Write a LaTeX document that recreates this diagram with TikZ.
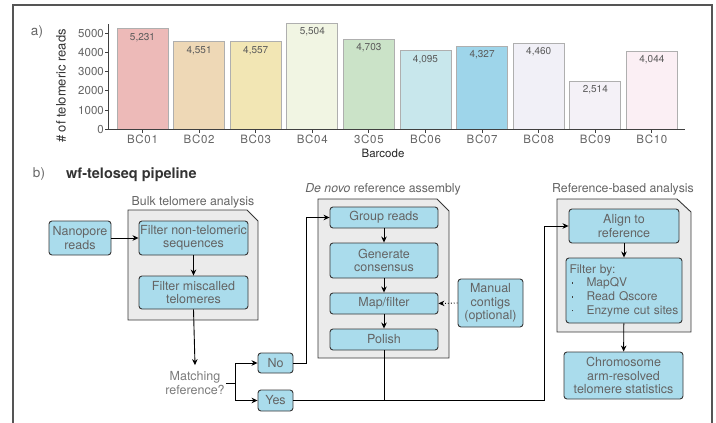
\documentclass[tikz,border=0pt]{standalone}
\usepackage{fontspec}
\setmainfont{TeX Gyre Heros}
\usetikzlibrary{arrows.meta,calc}
\definecolor{nodeblue}{RGB}{170,220,236}
\definecolor{nodeedge}{RGB}{55,55,55}
\definecolor{txtgray}{RGB}{100,100,100}
\definecolor{grpfill}{RGB}{235,235,235}
\definecolor{framegray}{RGB}{85,85,85}
\definecolor{barline}{RGB}{175,175,175}
\definecolor{cA}{RGB}{237,186,184}
\definecolor{cB}{RGB}{238,216,182}
\definecolor{cC}{RGB}{242,230,180}
\definecolor{cD}{RGB}{241,245,227}
\definecolor{cE}{RGB}{203,227,200}
\definecolor{cF}{RGB}{200,231,236}
\definecolor{cG}{RGB}{158,213,234}
\definecolor{cH}{RGB}{241,240,247}
\definecolor{cI}{RGB}{244,241,247}
\definecolor{cJ}{RGB}{251,239,244}
\tikzset{
  procbox/.style={draw=nodeedge, fill=nodeblue, rounded corners=3pt, line width=0.9pt,
    text=txtgray, font=\fontsize{12.5}{13.5}\selectfont, align=center, inner sep=1pt},
  grpbox/.style={draw=nodeedge, fill=grpfill, line width=0.9pt},
  grplabel/.style={text=txtgray, font=\fontsize{12.3}{13.5}\selectfont, inner sep=0pt},
  conn/.style={line width=0.9pt, black},
  arr/.style={conn, -{Stealth[length=6pt,width=5.5pt]}},
  barbox/.style={draw=barline, line width=0.9pt},
  ticklab/.style={text=txtgray, font=\fontsize{11.5}{12}\selectfont, inner sep=0pt},
  vallab/.style={text=txtgray!90!black, font=\fontsize{10}{11}\selectfont, inner sep=0pt},
  axisline/.style={draw=black!75, line width=0.9pt},
}
\newcommand{\bulletitem}{\makebox[17pt][l]{\hspace{2pt}\textcolor{black!75}{\raisebox{2.8pt}{\rule{1.7pt}{1.7pt}}}}}
\begin{document}
\begin{tikzpicture}[x=1pt, y=-1pt]
\useasboundingbox (0,0) rectangle (716,423);
% outer frame
\draw[framegray, line width=1.3pt] (13,423) -- (13,5) -- (712,5) -- (712,423);

% ---------- panel a ----------
\node[text=black!60, font=\fontsize{13.5}{15}\selectfont, inner sep=0pt] (alab) at (37,32) {a)};
% bars
\foreach \v/\t/\c [count=\i from 0] in {5231/{5,231}/cA, 4551/{4,551}/cB, 4557/{4,557}/cC, 5504/{5,504}/cD, 4703/{4,703}/cE, 4095/{4,095}/cF, 4327/{4,327}/cG, 4460/{4,460}/cH, 2514/{2,514}/cI, 4044/{4,044}/cJ} {
  \pgfmathsetmacro{\xl}{117+56.6*\i}
  \pgfmathsetmacro{\xc}{142.5+56.6*\i}
  \pgfmathsetmacro{\yt}{129.3-\v*0.0192}
  \draw[barbox, fill=\c] (\xl,129.3) rectangle ({\xl+51},\yt);
  \node[vallab] (val\i) at (\xc,{\yt+8.5}) {\t};
}
% axes
\draw[axisline] (108,24) -- (108,129.3) -- (685,129.3);
\foreach \k/\lab in {0/0, 1/1000, 2/2000, 3/3000, 4/4000, 5/5000} {
  \pgfmathsetmacro{\yy}{129.3-19.2*\k}
  \draw[axisline] (108,\yy) -- (105,\yy);
  \node[ticklab, anchor=east] (ytick\k) at (104,\yy) {\lab};
}
\foreach \lab [count=\i from 0] in {BC01,BC02,BC03,BC04,3C05,BC06,BC07,BC08,BC09,BC10} {
  \pgfmathsetmacro{\xc}{142.5+56.6*\i}
  \draw[axisline] (\xc,129.3) -- (\xc,132.5);
  \node[ticklab, font=\fontsize{11.5}{12}\selectfont] (xtick\i) at (\xc,139.5) {\addfontfeature{LetterSpace=6}\lab};
}
\node[text=black!85, font=\fontsize{11.5}{12}\selectfont, inner sep=0pt] (xaxlab) at (383,153.5) {Barcode};
\node[text=black!80, font=\fontsize{13}{14}\selectfont, rotate=90, inner sep=0pt] (yaxlab) at (61,86) {\# of telomeric reads};

% ---------- panel b ----------
\node[text=black!60, font=\fontsize{13.5}{15}\selectfont, inner sep=0pt] (blab) at (39,174.5) {b)};
\node[text=black!80, font=\fontsize{14.5}{16}\selectfont\bfseries, inner sep=0pt, anchor=west] (title) at (66,174.5) {wf-teloseq pipeline};

% group boxes
\draw[grpbox] (128,210) -- (247,210) -- (258,221) -- (258,320) -- (128,320) -- cycle;
\draw[grpbox] (318,199) -- (437,199) -- (449,211) -- (449,358) -- (318,358) -- cycle;
\draw[grpbox] (557,199) -- (677,199) -- (691,212) -- (691,332) -- (557,332) -- cycle;
\node[grplabel] (glab1) at (193,202) {Bulk telomere analysis};
\node[grplabel] (glab2) at (383,189) {\textit{De novo} reference assembly};
\node[grplabel] (glab3) at (623,189) {Reference-based analysis};

% process nodes
\node[procbox, minimum width=62pt, minimum height=34pt] (nano) at (80,238) {Nanopore\\reads};
\node[procbox, minimum width=109pt, minimum height=34pt] (fnt) at (193.5,238) {Filter non-telomeric\\sequences};
\node[procbox, minimum width=109pt, minimum height=33pt] (fmt) at (193.5,292.5) {Filter miscalled\\telomeres};
\node[text=txtgray!85, font=\fontsize{12.5}{14}\selectfont, align=center, inner sep=1pt] (match) at (195,383) {Matching\\reference?};
\node[procbox, minimum width=35pt, minimum height=20pt] (no) at (275.5,363) {No};
\node[procbox, minimum width=35pt, minimum height=21pt] (yes) at (275.5,400.5) {Yes};

\node[procbox, minimum width=108pt, minimum height=21pt] (grp) at (384,217.5) {Group reads};
\node[procbox, minimum width=108pt, minimum height=35pt] (gen) at (384,260.5) {Generate\\consensus};
\node[procbox, minimum width=108pt, minimum height=21pt] (map) at (384,303.5) {Map/filter};
\node[procbox, minimum width=108pt, minimum height=21pt] (pol) at (384,339.5) {Polish};
\node[procbox, minimum width=65pt, minimum height=48pt] (man) at (490.5,303) {Manual\\contigs\\(optional)};

\node[procbox, minimum width=110pt, minimum height=34pt] (align) at (624,226) {Align to\\reference};
\node[procbox, minimum width=116pt, minimum height=65pt, align=left, text width=109pt, inner xsep=3.5pt,
  font=\fontsize{12}{13.7}\selectfont] (filt) at (624,290.5)
  {Filter by:\\\bulletitem MapQV\\\bulletitem Read Qscore\\\bulletitem Enzyme cut sites};
\node[procbox, minimum width=119pt, minimum height=47pt] (chrom) at (623.5,375.5) {Chromosome\\arm-resolved\\telomere statistics};

% connectors
\draw[arr] (nano) -- (fnt);
\draw[arr] (fnt) -- (fmt);
\draw[arr] (fmt.south) -- ($(match.north)+(0,-5)$);
\coordinate (br) at ($(match.east)+(10,0)$);
\draw[conn] (match.east) -- (br);
\draw[arr] (br) |- (no.west);
\draw[arr] (br) |- (yes.west);
\coordinate (noturn) at ($(no.east)+(13,0)$);
\draw[arr] (no.east) -- (noturn) |- (grp.west);
\draw[arr] (grp) -- (gen);
\draw[arr] (gen) -- (map);
\draw[arr] (map) -- (pol);
\draw[conn, dotted, -{Stealth[length=6pt,width=5.5pt]}] (man.west) -- (map.east);
\coordinate (yesturn) at (544,400.5);
\draw[arr] (yes.east) -- (yesturn) |- (align.west);
\draw[conn] (pol.south) -- (pol.south |- yes.east);
\draw[arr] (align) -- (filt);
\draw[arr] (filt) -- (chrom);
\end{tikzpicture}
\end{document}
